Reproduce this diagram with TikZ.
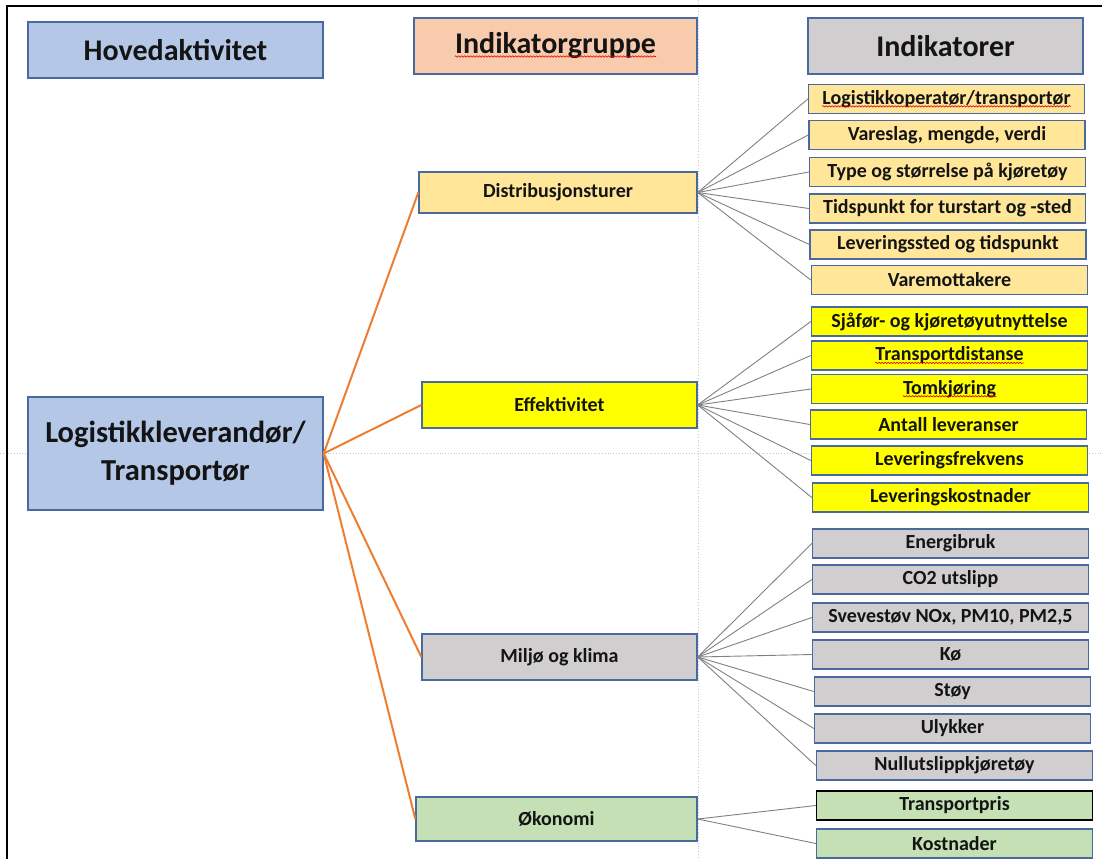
\documentclass[tikz,border=0pt]{standalone}
\usepackage{fontspec}
\setmainfont{Carlito}
\usetikzlibrary{decorations.pathmorphing}
\definecolor{bord}{HTML}{4A6A9F}
\definecolor{cblue}{HTML}{B4C7E7}
\definecolor{cpeach}{HTML}{F8CBAD}
\definecolor{cgray}{HTML}{D0CECE}
\definecolor{clorange}{HTML}{FFE699}
\definecolor{cyellow}{HTML}{FFFF00}
\definecolor{cgreen}{HTML}{C5E0B4}
\definecolor{corange}{HTML}{ED7D31}
\definecolor{cline}{HTML}{808080}
\definecolor{cguide}{HTML}{C8C8C8}
\definecolor{ctext}{HTML}{141414}
\begin{document}
\begin{tikzpicture}[x=1pt,y=-1pt,
  boxbase/.style={draw=bord, line width=1.4pt, inner sep=0pt, text=ctext, font=\bfseries, align=center},
  hdr/.style={boxbase, minimum height=56, font=\fontsize{30}{34}\selectfont\bfseries},
  grp/.style={boxbase, font=\fontsize{20}{24}\selectfont\bfseries},
  ind/.style={boxbase, minimum width=276, minimum height=29, font=\fontsize{20}{24}\selectfont\bfseries},
  oc/.style={draw=corange, line width=2pt},
  gc/.style={draw=cline, line width=0.9pt},
  squig/.style={draw=red!85!black, line width=0.6pt, decorate, decoration={snake, segment length=3pt, amplitude=0.7pt}},
  txt/.style={inner sep=0pt, text=ctext}
]
\useasboundingbox (0,0) rectangle (1102,859);
% guides
\draw[cguide, dotted, line width=0.8pt] (698,0) -- (698,859);
\draw[cguide, dotted, line width=0.8pt] (0,453) -- (1102,453);
% frame
\draw[black, line width=2.5pt] (7,859) -- (7,6) -- (1102,6);

% headers
\node[hdr, fill=cblue, minimum width=295] (h1) at (175.5,50) {Hovedaktivitet};
\node[hdr, fill=cpeach, minimum width=283] (h2) at (555.5,46) {};
\node[txt, font=\fontsize{30}{34}\selectfont\bfseries] (h2t) at (h2) {Indikatorgruppe};
\node[hdr, fill=cgray, minimum width=275] (h3) at (945.5,46) {Indikatorer};

% main
\node[boxbase, fill=cblue, minimum width=295, minimum height=113, font=\fontsize{30.5}{38}\selectfont\bfseries] (main) at (175.5,453.5) {Logistikkleverandør/\\Transportør};

% groups
\node[grp, fill=clorange, minimum width=278, minimum height=41] (g1) at (558,192.5) {Distribusjonsturer};
\node[grp, fill=cyellow, minimum width=275, minimum height=46] (g2) at (559.5,405) {Effektivitet};
\node[grp, fill=cgray, minimum width=275, minimum height=46] (g3) at (559.5,657) {Miljø og klima};
\node[grp, fill=cgreen, minimum width=281, minimum height=44] (g4) at (556.5,819) {Økonomi};

% indicators group 1
\node[ind, fill=clorange] (a1) at (946.5,99) {};
\node[txt, font=\fontsize{20}{24}\selectfont\bfseries] (a1t) at (a1) {Logistikkoperatør/transportør};
\node[ind, fill=clorange] (a2) at (947,135) {Vareslag, mengde, verdi};
\node[ind, fill=clorange] (a3) at (947.5,172) {Type og størrelse på kjøretøy};
\node[ind, fill=clorange] (a4) at (947.5,208.5) {Tidspunkt for turstart og -sted};
\node[ind, fill=clorange] (a5) at (948,244.5) {Leveringssted og tidspunkt};
\node[ind, fill=clorange] (a6) at (949.5,280) {Varemottakere};

% indicators group 2
\node[ind, fill=cyellow] (b1) at (949.5,321.5) {Sjåfør- og kjøretøyutnyttelse};
\node[ind, fill=cyellow] (b2) at (949.5,355.5) {};
\node[txt, font=\fontsize{20}{24}\selectfont\bfseries] (b2t) at (b2) {Transportdistanse};
\node[ind, fill=cyellow] (b3) at (949.5,389) {};
\node[txt, font=\fontsize{20}{24}\selectfont\bfseries] (b3t) at (b3) {Tomkjøring};
\node[ind, fill=cyellow] (b4) at (948.5,424.5) {Antall leveranser};
\node[ind, fill=cyellow] (b5) at (949.5,460.5) {Leveringsfrekvens};
\node[ind, fill=cyellow] (b6) at (950.5,497.5) {Leveringskostnader};

% indicators group 3
\node[ind, fill=cgray] (c1) at (950.5,543.5) {Energibruk};
\node[ind, fill=cgray] (c2) at (950.5,579.5) {CO2 utslipp};
\node[ind, fill=cgray] (c3) at (950.5,617.5) {Svevestøv NOx, PM10, PM2,5};
\node[ind, fill=cgray] (c4) at (950.5,654.5) {Kø};
\node[ind, fill=cgray] (c5) at (952.5,691.5) {Støy};
\node[ind, fill=cgray] (c6) at (952.5,728.5) {Ulykker};
\node[ind, fill=cgray] (c7) at (954.5,765.5) {Nullutslippkjøretøy};

% indicators group 4
\node[ind, fill=cgreen, draw=black] (d1) at (954.5,805.5) {Transportpris};
\node[ind, fill=cgreen] (d2) at (954.5,843.5) {Kostnader};

% spell-check squiggles
\draw[squig] ([yshift=-2.5pt]h2t.base west) -- ([yshift=-2.5pt]h2t.base east);
\draw[squig] ([yshift=-2pt]a1t.base west) -- ([yshift=-2pt]a1t.base east);
\draw[squig] ([yshift=-2pt]b2t.base west) -- ([yshift=-2pt]b2t.base east);
\draw[squig] ([yshift=-2pt]b3t.base west) -- ([yshift=-2pt]b3t.base east);

% orange connectors
\foreach \g in {g1,g2,g3,g4} \draw[oc] (main.east) -- (\g.west);

% gray connectors
\foreach \i in {a1,a2,a3,a4,a5,a6} \draw[gc] (g1.east) -- (\i.west);
\foreach \i in {b1,b2,b3,b4,b5,b6} \draw[gc] (g2.east) -- (\i.west);
\foreach \i in {c1,c2,c3,c4,c5,c6,c7} \draw[gc] (g3.east) -- (\i.west);
\foreach \i in {d1,d2} \draw[gc] (g4.east) -- (\i.west);
\end{tikzpicture}
\end{document}
